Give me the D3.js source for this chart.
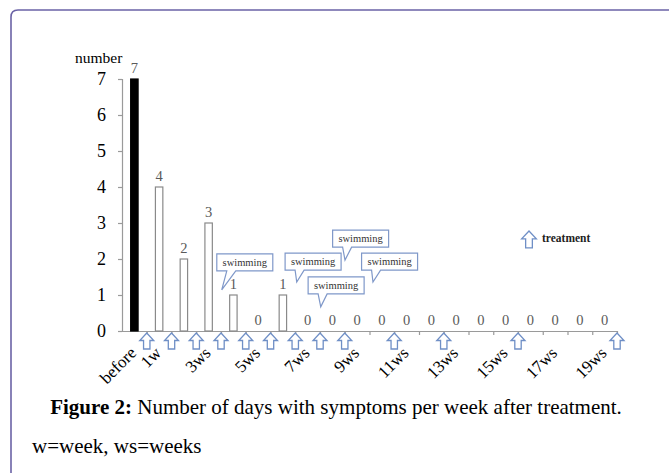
<!DOCTYPE html>
<html>
<head>
<meta charset="utf-8">
<script src="https://cdn.jsdelivr.net/npm/d3@7"></script>
<style>
  body { margin: 0; background: #fff; }
</style>
</head>
<body>
<div class="chart"></div>
<script>
// data
var weeks = ["before", "1w", "2ws", "3ws", "4ws", "5ws", "6ws", "7ws", "8ws", "9ws",
             "10ws", "11ws", "12ws", "13ws", "14ws", "15ws", "16ws", "17ws", "18ws", "19ws"];
var days = [7, 4, 2, 3, 1, 0, 1, 0, 0, 0, 0, 0, 0, 0, 0, 0, 0, 0, 0, 0];
var weekLabels = ["before", "1w", "3ws", "5ws", "7ws", "9ws", "11ws", "13ws", "15ws", "17ws", "19ws"];
var yTicks = [0, 1, 2, 3, 4, 5, 6, 7];
// treatment arrows: at end of week n
var treatmentAt = [1, 2, 3, 4, 5, 6, 7, 8, 9, 11, 13, 16, 20];
// "swimming" callouts, in data units (week position, number)
var swimTipX = [4.03, 7.06, 9.01, 10.14, 8.03];
var swimTipY = [1.14, 1.36, 1.97, 1.36, 0.67];
var swimBoxX = [3.83, 6.59, 8.51, 9.68, 7.52];
var swimBoxY = [1.67, 1.69, 2.33, 1.69, 1.03];

var W = 669, H = 473;
var plot = {left: 122, right: 617, top: 79, bottom: 331};
var arrowColor = "#6f8fc6";
var serif = "'Liberation Serif', 'Times New Roman', Times, 'DejaVu Serif', serif";

var svg = d3.select(".chart")
            .append("svg")
            .attr("width", W)
            .attr("height", H)
            .attr("font-family", serif)
            .style("font-family", serif);

// frame
svg.append("path")
   .attr("d", "M11," + (H + 2) + " L11,17 Q11,10 18,10 L" + (W + 2) + ",10")
   .attr("fill", "none")
   .attr("stroke", "#6b63a6")
   .attr("stroke-width", 1.6);

var x = d3.scaleBand().domain(weeks).range([plot.left, plot.right]).padding(0);
var xPos = d3.scaleLinear().domain([0, weeks.length]).range([plot.left, plot.right]);
var y = d3.scaleLinear().domain([0, 7]).range([plot.bottom, plot.top]);

// y axis
var yAxis = svg.append("g")
               .attr("transform", "translate(" + plot.left + ",0)")
               .call(d3.axisLeft(y).tickValues(yTicks).tickSize(4).tickPadding(12).tickFormat(d3.format("d")))
               .attr("font-family", serif);
yAxis.select(".domain").attr("stroke", "#9a9a9a").attr("stroke-width", 1.2);
yAxis.selectAll(".tick line").attr("stroke", "#9a9a9a").attr("stroke-width", 1.2);
yAxis.selectAll(".tick text").attr("font-size", 18).attr("fill", "#000");

svg.append("text")
   .attr("x", 75)
   .attr("y", 63)
   .attr("font-size", 15.5)
   .text("number");

// x axis line + ticks at week boundaries
var xAxis = svg.append("g")
               .attr("transform", "translate(0," + plot.bottom + ")")
               .call(d3.axisBottom(xPos).tickValues(d3.range(1, weeks.length + 1)).tickSize(4).tickSizeOuter(0).tickFormat(""));
xAxis.select(".domain").attr("stroke", "#9a9a9a").attr("stroke-width", 1.2);
xAxis.selectAll(".tick line").attr("stroke", "#9a9a9a").attr("stroke-width", 1.2);

// bars
var bw = x.bandwidth() * 0.3;
svg.selectAll("rect.bar")
   .data(weeks.map((w, i) => ({w: w, v: days[i], i: i})).filter(d => d.v > 0))
   .enter()
   .append("rect")
   .attr("class", "bar")
   .attr("x", d => x(d.w) + x.bandwidth() / 2 - bw / 2)
   .attr("y", d => y(d.v))
   .attr("width", bw)
   .attr("height", d => y(0) - y(d.v))
   .attr("fill", d => d.i === 0 ? "#000" : "#fff")
   .attr("stroke", d => d.i === 0 ? "#000" : "#8a8a8a")
   .attr("stroke-width", 1.2);

// value labels
svg.selectAll("text.val")
   .data(weeks.map((w, i) => ({w: w, v: days[i]})))
   .enter()
   .append("text")
   .attr("class", "val")
   .attr("x", d => x(d.w) + x.bandwidth() / 2)
   .attr("y", d => y(d.v) - 6)
   .attr("text-anchor", "middle")
   .attr("font-size", 14.5)
   .attr("fill", "#5a5a5a")
   .text(d => d.v);

// rotated week labels
svg.selectAll("text.wk")
   .data(weekLabels)
   .enter()
   .append("text")
   .attr("class", "wk")
   .attr("text-anchor", "end")
   .attr("font-size", 17)
   .attr("transform", d => "translate(" + (x(d) + x.bandwidth() / 2 + 3) + "," + (plot.bottom + 23) + ") rotate(-45)")
   .text(d => d);

// treatment arrow shape (tip at 0,0)
function arrowPath(s) {
  var hw = 7 * s, sw = 3.2 * s, hh = 7.5 * s, h = 16 * s;
  return "M0,0 L" + hw + "," + hh + " L" + sw + "," + hh + " L" + sw + "," + h +
         " L" + (-sw) + "," + h + " L" + (-sw) + "," + hh + " L" + (-hw) + "," + hh + " Z";
}

svg.selectAll("path.treat")
   .data(treatmentAt)
   .enter()
   .append("path")
   .attr("class", "treat")
   .attr("d", arrowPath(1))
   .attr("transform", d => "translate(" + xPos(d) + "," + (plot.bottom + 2) + ")")
   .attr("fill", "#fff")
   .attr("stroke", arrowColor)
   .attr("stroke-width", 1.3)
   .attr("stroke-linejoin", "miter");

// legend
svg.append("path")
   .attr("d", arrowPath(1.05))
   .attr("transform", "translate(529,231)")
   .attr("fill", "#fff")
   .attr("stroke", arrowColor)
   .attr("stroke-width", 1.3);
svg.append("text")
   .attr("x", 542)
   .attr("y", 242)
   .attr("font-size", 11.5)
   .attr("font-weight", "bold")
   .attr("fill", "#222")
   .text("treatment");

// swimming callouts
var boxW = 56, boxH = 17;
var callouts = swimTipX.map((t, i) => ({tx: xPos(t), ty: y(swimTipY[i]), bx: xPos(swimBoxX[i]), by: y(swimBoxY[i])}));
var co = svg.selectAll("g.callout")
            .data(callouts)
            .enter()
            .append("g")
            .attr("class", "callout");
co.append("path")
  .attr("d", d => {
    var l = d.bx, b = d.by, t = b - boxH, r = l + boxW;
    return "M" + l + "," + t + " L" + r + "," + t + " L" + r + "," + b +
           " L" + (l + 19) + "," + b + " L" + d.tx + "," + d.ty + " L" + (l + 10) + "," + b +
           " L" + l + "," + b + " Z";
  })
  .attr("fill", "#fff")
  .attr("stroke", "#7f98c9")
  .attr("stroke-width", 1.2);
co.append("text")
  .attr("x", d => d.bx + boxW / 2)
  .attr("y", d => d.by - 5)
  .attr("text-anchor", "middle")
  .attr("font-size", 10.5)
  .attr("fill", "#333")
  .text("swimming");

// caption
var cap = svg.append("text")
             .attr("x", 336)
             .attr("y", 414)
             .attr("text-anchor", "middle")
             .attr("font-size", 21);
cap.append("tspan").attr("font-weight", "bold").text("Figure 2:");
cap.append("tspan").text(" Number of days with symptoms per week after treatment.");

svg.append("text")
   .attr("x", 32)
   .attr("y", 453)
   .attr("font-size", 21)
   .text("w=week, ws=weeks");
</script>
</body>
</html>
